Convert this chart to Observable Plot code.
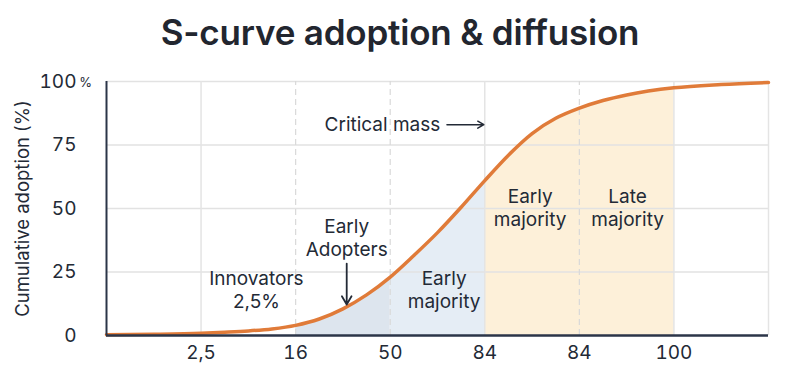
<!DOCTYPE html>
<html>
<head>
<meta charset="utf-8">
<script src="https://cdn.jsdelivr.net/npm/d3@7"></script>
<script src="https://cdn.jsdelivr.net/npm/@observablehq/plot@0.6"></script>
<style>
  html, body { margin: 0; padding: 0; background: #fff; }
  body { width: 800px; height: 373px; overflow: hidden; font-family: Inter, "Noto Sans", sans-serif; }
  h1 { margin: 0; height: 62px; line-height: 64px; text-align: center; font-size: 35px; font-weight: 600; color: #22262f; letter-spacing: -0.2px; }
</style>
</head>
<body>
<h1>S-curve adoption &amp; diffusion</h1>
<div id="chart"></div>
<script>
// Curve samples: position along the x axis (category index units) and cumulative adoption (%)
const curveX = [0, 0.5, 1, 1.25, 1.5, 1.75, 2, 2.25, 2.5, 2.75, 3, 3.25, 3.5, 3.75, 4, 4.25, 4.5, 4.75, 5, 5.25, 5.5, 6, 6.5, 7];
const curveY = [0.3, 0.5, 0.9, 1.3, 1.8, 2.6, 4.0, 6.5, 10.5, 16, 23, 31.5, 40.5, 50.5, 61, 71, 79.5, 85.5, 89.5, 92.5, 94.7, 97.5, 98.8, 99.6];

// X tick labels
const xTickPos = [1, 2, 3, 4, 5, 6];
const xTickLabels = ["2,5", "16", "50", "84", "84", "100"];
const yTicks = [0, 25, 50, 75, 100];

// Segment shading (from, to)
const segInnov = [2, 3];
const segEarly = [3, 4];
const segMaj = [4, 6];

// Annotations (data units)
const noteText = ["Early\nAdopters", "Innovators\n2,5%", "Early\nmajority", "Early\nmajority", "Late\nmajority"];
const noteX = [2.54, 1.585, 3.57, 4.48, 5.51];
const noteY = [38.8, 18.1, 18.1, 50.4, 50.4];

const data = curveX.map((x, i) => ({x, y: curveY[i]}));
const seg = ([a, b]) => data.filter(d => d.x >= a && d.x <= b);
const notes = noteText.map((t, i) => ({t, x: noteX[i], y: noteY[i]}));

const textColor = "#232a36";
const axisColor = "#2b3548";

const chart = Plot.plot({
  width: 800,
  height: 311,
  marginTop: 19,
  marginBottom: 38,
  marginLeft: 106,
  marginRight: 32,
  style: {fontFamily: "Inter, 'Noto Sans', sans-serif", fontSize: "19px", color: textColor},
  x: {domain: [0, 7]},
  y: {domain: [0, 100]},
  marks: [
    Plot.areaY(seg(segInnov), {x: "x", y: "y", fill: "#dde5ee", curve: "monotone-x"}),
    Plot.areaY(seg(segEarly), {x: "x", y: "y", fill: "#e5edf5", curve: "monotone-x"}),
    Plot.areaY(seg(segMaj), {x: "x", y: "y", fill: "#fdf0d9", curve: "monotone-x"}),
    Plot.ruleY([25, 50, 75, 100], {stroke: "#e2e2e2", strokeWidth: 1.5}),
    Plot.ruleX([1, 4, 6, 7], {y1: 0, y2: 100, stroke: "#e4e4e4", strokeWidth: 1.5}),
    Plot.ruleX([2, 3, 5], {y1: 0, y2: 100, stroke: "#d9d9d9", strokeWidth: 1.2, strokeDasharray: "6,4"}),
    Plot.line(data, {x: "x", y: "y", stroke: "#e07b39", strokeWidth: 3.5, curve: "monotone-x"}),
    Plot.ruleX([0], {y1: 0, y2: 100, stroke: axisColor, strokeWidth: 2}),
    Plot.ruleY([0], {stroke: axisColor, strokeWidth: 2.5}),
    Plot.axisY({ticks: yTicks, tickSize: 0, tickPadding: 30, label: null, fill: textColor, fontSize: 19}),
    Plot.text(["%"], {x: 0, y: 100, dx: -21, dy: 1, fontSize: 13, fill: textColor, textAnchor: "middle"}),
    Plot.axisX({ticks: xTickPos, tickFormat: (d) => xTickLabels[xTickPos.indexOf(d)], tickSize: 0, tickPadding: 10, label: null, fill: textColor, fontSize: 19}),
    Plot.text(["Cumulative adoption (%)"], {frameAnchor: "left", dx: -83, rotate: -90, textAnchor: "middle", fontSize: 18.5, fill: textColor}),
    Plot.text(notes, {x: "x", y: "y", text: "t", fontSize: 19, lineHeight: 1.2, fill: textColor}),
    Plot.text(["Critical mass"], {x: 3.53, y: 83, textAnchor: "end", fontSize: 19, fill: textColor}),
    Plot.arrow([{x1: 3.6, x2: 3.99, y: 83}], {x1: "x1", x2: "x2", y1: "y", y2: "y", stroke: textColor, strokeWidth: 1.5, headLength: 7}),
    Plot.arrow([{x: 2.54, y1: 28.3, y2: 12.2}], {x1: "x", x2: "x", y1: "y1", y2: "y2", stroke: textColor, strokeWidth: 1.8, headLength: 8})
  ]
});
document.getElementById("chart").appendChild(chart);
</script>
</body>
</html>
